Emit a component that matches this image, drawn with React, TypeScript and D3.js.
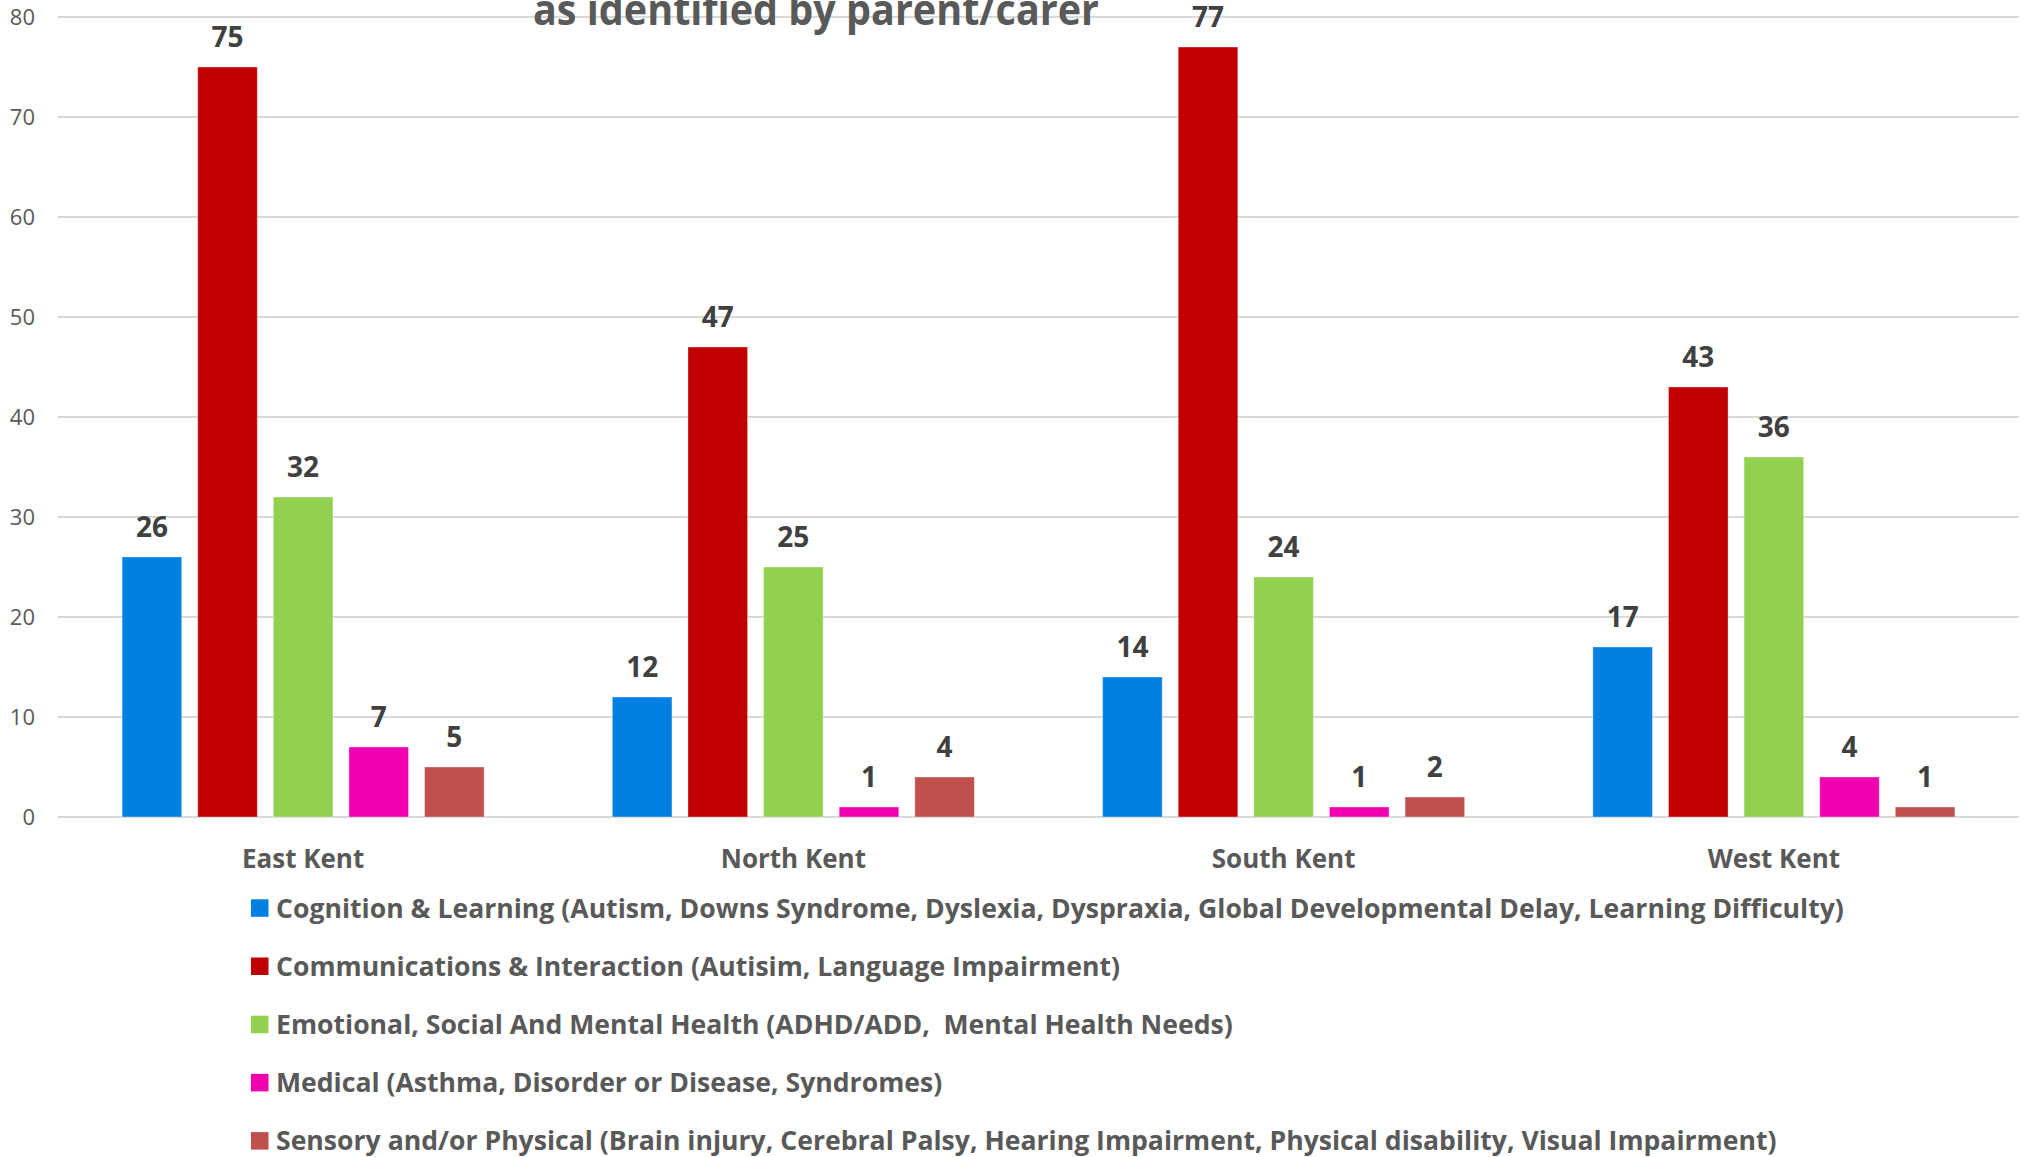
import React from "react";
import * as d3 from "d3";

const groups = ["East Kent", "North Kent", "South Kent", "West Kent"];
const seriesNames = [
  "Cognition & Learning (Autism, Downs Syndrome, Dyslexia, Dyspraxia, Global Developmental Delay, Learning Difficulty)",
  "Communications & Interaction (Autisim, Language Impairment)",
  "Emotional, Social And Mental Health (ADHD/ADD,  Mental Health Needs)",
  "Medical (Asthma, Disorder or Disease, Syndromes)",
  "Sensory and/or Physical (Brain injury, Cerebral Palsy, Hearing Impairment, Physical disability, Visual Impairment)",
];
const seriesColors = ["#0080E0", "#C00000", "#92D050", "#F000B0", "#C0504D"];
const cognition = [26, 12, 14, 17];
const communication = [75, 47, 77, 43];
const emotional = [32, 25, 24, 36];
const medical = [7, 1, 1, 4];
const sensory = [5, 4, 2, 1];
const seriesValues = [cognition, communication, emotional, medical, sensory];
const yTicks = [0, 10, 20, 30, 40, 50, 60, 70, 80];
const titleText = "as identified by parent/carer";

const W = 2029;
const H = 1157;
const FONT = "'Open Sans', 'Noto Sans', sans-serif";

export default function App() {
  const y = d3.scaleLinear().domain([0, 80]).range([817, 17]);
  const x0 = d3.scaleBand<string>().domain(groups).range([58, 2019]).padding(0);
  const x1 = d3
    .scaleBand<number>()
    .domain(d3.range(seriesNames.length))
    .range([0, x0.bandwidth()])
    .paddingInner(0.212)
    .paddingOuter(0.848);

  return (
    <svg
      width={W}
      height={H}
      style={{ position: "absolute", left: 0, top: 0, background: "#fff" }}
      fontFamily={FONT}
    >
      <g>
        {yTicks.map((t) => (
          <g key={t}>
            <line x1={58} x2={2019} y1={y(t)} y2={y(t)} stroke="#D9D9D9" strokeWidth={1.8} />
            <text
              x={35}
              y={y(t)}
              dy="0.35em"
              textAnchor="end"
              fontSize={22}
              fill="#595959"
            >
              {t}
            </text>
          </g>
        ))}
      </g>
      <text
        x={816}
        y={25}
        textAnchor="middle"
        fontSize={43}
        fontWeight={700}
        fill="#595959"
        textLength={566}
        lengthAdjust="spacingAndGlyphs"
      >
        {titleText}
      </text>
      {groups.map((g, gi) => (
        <g key={g} transform={`translate(${x0(g)},0)`}>
          {seriesValues.map((vals, si) => {
            const v = vals[gi];
            const bx = x1(si)!;
            const bw = x1.bandwidth();
            return (
              <g key={si}>
                <rect
                  x={bx}
                  y={y(v)}
                  width={bw}
                  height={y(0) - y(v)}
                  fill={seriesColors[si]}
                  stroke="#ffffff"
                  strokeOpacity={0.35}
                  strokeWidth={1}
                />
                <text
                  x={bx + bw / 2}
                  y={y(v) - 20}
                  textAnchor="middle"
                  fontSize={28}
                  fontWeight={700}
                  fill="#404040"
                >
                  {v}
                </text>
              </g>
            );
          })}
          <text
            x={x0.bandwidth() / 2}
            y={868}
            textAnchor="middle"
            fontSize={26}
            fontWeight={700}
            fill="#595959"
          >
            {g}
          </text>
        </g>
      ))}
      {seriesNames.map((name, i) => (
        <g key={name} transform={`translate(251,${908 + i * 58.2})`}>
          <rect x={0} y={-8.7} width={17.5} height={17.5} fill={seriesColors[i]} />
          <text
            x={25}
            y={0}
            dy="0.36em"
            fontSize={26.6}
            fontWeight={700}
            fill="#595959"
            style={{ whiteSpace: "pre" }}
          >
            {name}
          </text>
        </g>
      ))}
    </svg>
  );
}
